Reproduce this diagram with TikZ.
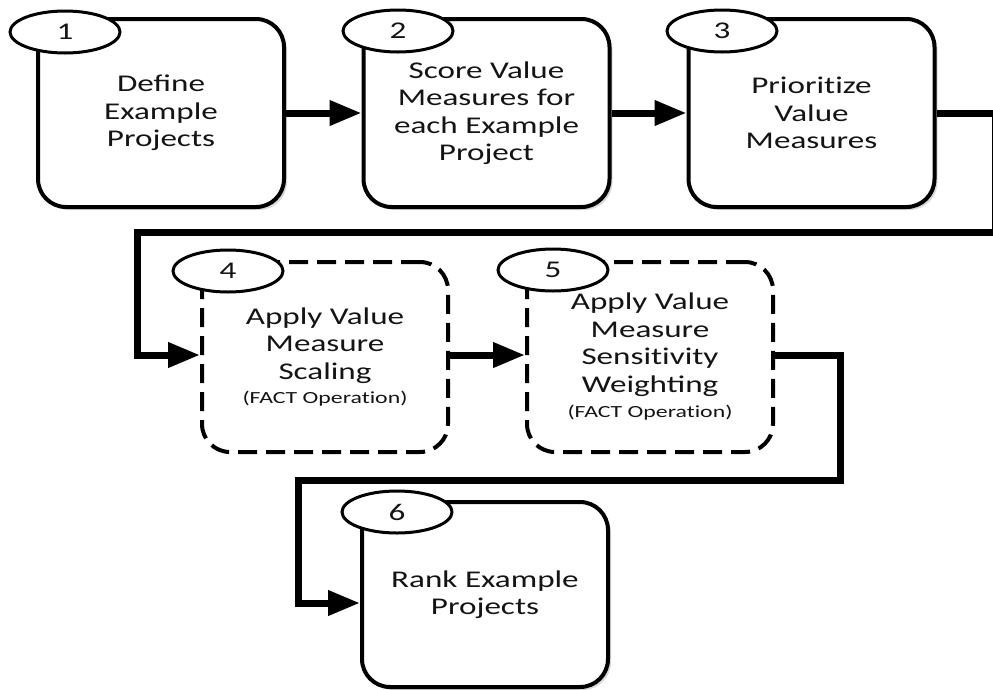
\documentclass[tikz,border=0pt]{standalone}
\usepackage{fontspec}
\setmainfont{Carlito}
\newfontfamily\bodyfont{Carlito}[FakeStretch=1.38]
\newfontfamily\smallfont{Carlito}[FakeStretch=1.4]
\usetikzlibrary{arrows.meta,shapes.geometric,shadows,calc}
\tikzset{
  box/.style={draw, line width=4pt, rounded corners=28pt, fill=white,
    minimum width=246pt, minimum height=188pt, align=center, text=black!92,
    font=\bodyfont\fontsize{24}{27.5}\selectfont, inner sep=0pt},
  solidbox/.style={box, drop shadow={shadow xshift=3pt, shadow yshift=-3pt, opacity=0.3}},
  dashbox/.style={box, dash pattern=on 19pt off 9pt, minimum height=190pt},
  oval/.style={draw, line width=3pt, ellipse, fill=white, minimum width=110pt,
    minimum height=42pt, inner sep=0pt, text=black!92,
    font=\bodyfont\fontsize{24}{24}\selectfont},
  conn/.style={line width=7pt, line join=miter, -{Triangle[length=32pt,width=24pt]}}
}
\newcommand{\factop}{{\smallfont\fontsize{17}{25}\selectfont (FACT Operat\kern0pt ion)}}
\begin{document}
\begin{tikzpicture}[x=1pt, y=-1pt]
\useasboundingbox (0,0) rectangle (993,689);
\clip (0,0) rectangle (993,689);
% boxes
\node[solidbox] (b1) at (161,113) {Define\\Example\\Projects};
\node[solidbox] (b2) at (486.5,113) {Score Value\\Measures for\\each Example\\Project};
\node[solidbox] (b3) at (811.5,113) {Priorit\kern0pt ize\\Value\\Measures};
\node[dashbox] (b4) at (325,357) {Apply Value\\Measure\\Scaling\\[-3pt]\factop};
\node[dashbox] (b5) at (650,357) {Apply Value\\Measure\\Sensit\kern0pt ivity\\Weighting\\[-2pt]\factop};
\node[solidbox, minimum height=185pt] (b6) at (485,594.5) {Rank Example\\Projects};
% ovals
\node[oval] (o1) at (65,32) {1};
\node[oval] (o2) at (398,31) {2};
\node[oval] (o3) at (722,31) {3};
\node[oval] (o4) at (228,271) {4};
\node[oval] (o5) at (553,270) {5};
\node[oval] (o6) at (397,512) {6};
% connector corners
\coordinate (r1) at (995.5,113);
\coordinate (r2) at (995.5,232);
\coordinate (l1) at (137,232);
\coordinate (s1) at (840,355);
\coordinate (s2) at (840,480);
\coordinate (s3) at (298,480);
\coordinate (p4) at ($(b4.west)+(0,-2)$);
\coordinate (p5) at ($(b5.west)+(0,-2)$);
\coordinate (q4) at ($(b4.east)+(0,-2)$);
\coordinate (q5) at ($(b5.east)+(0,-2)$);
\coordinate (p6) at ($(b6.west)+(0,8.5)$);
% connectors
\draw[conn] (b1.east) -- (b2.west);
\draw[conn] (b2.east) -- (b3.west);
\draw[conn] (b3.east) -- (r1) -- (r2) -- (l1) -- (l1 |- p4) -- (p4);
\draw[conn] (q4) -- (p5);
\draw[conn] (q5) -- (s1) -- (s2) -- (s3) -- (s3 |- p6) -- (p6);
\end{tikzpicture}
\end{document}
